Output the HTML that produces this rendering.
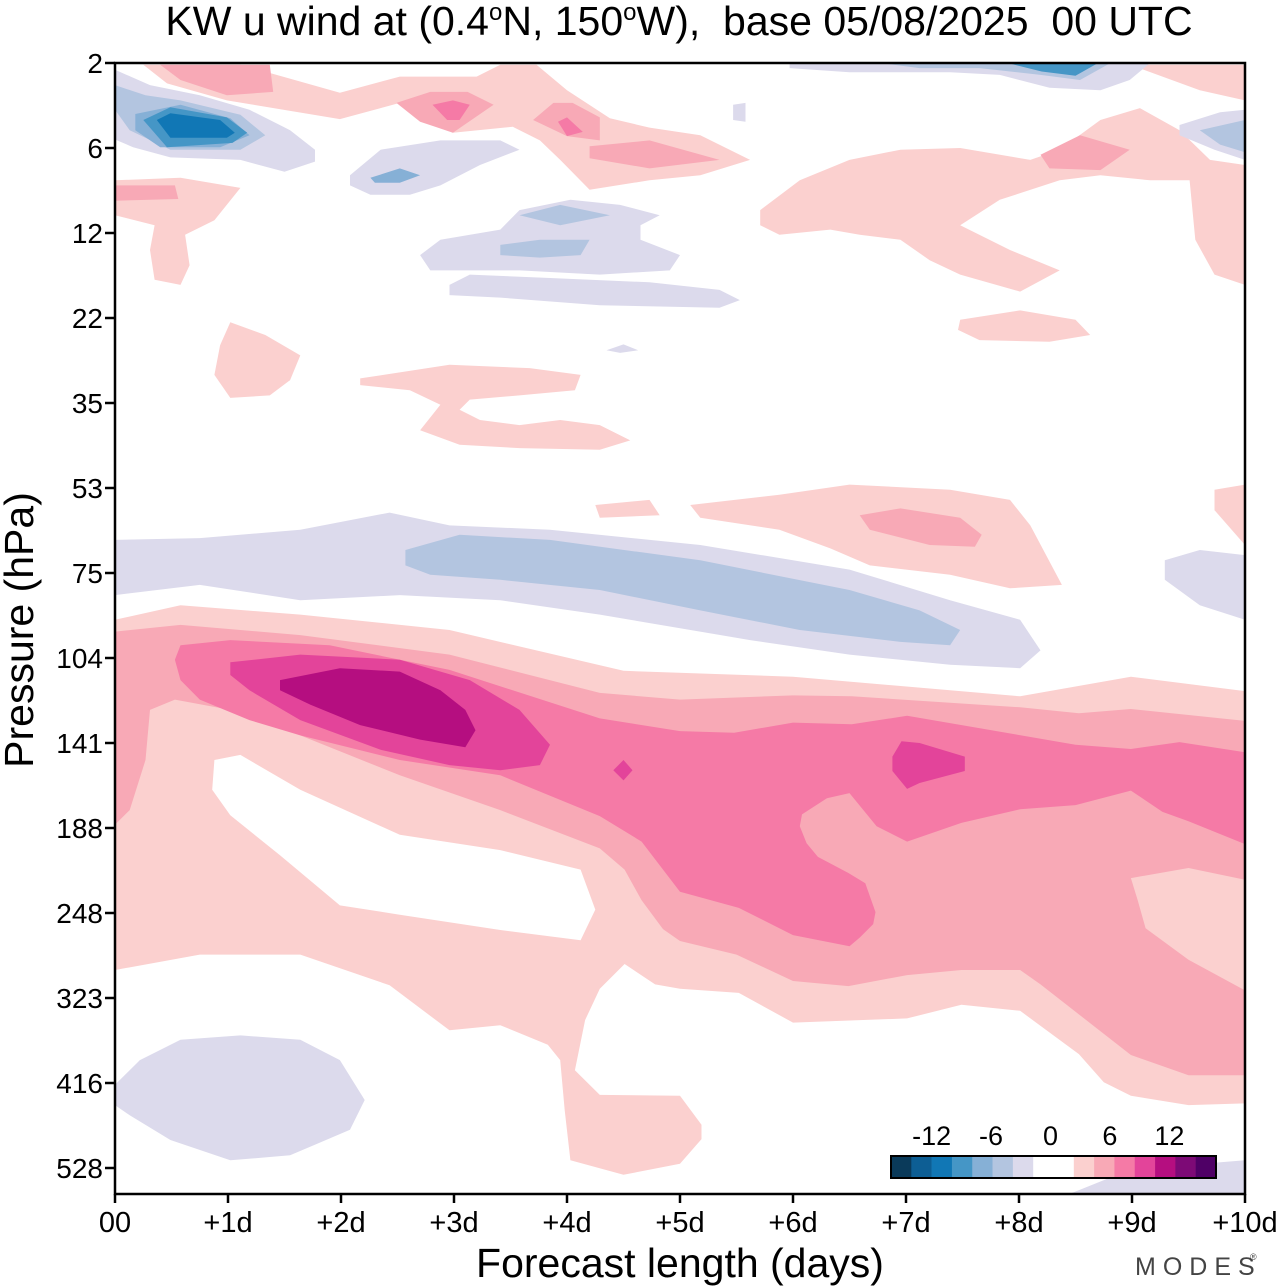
<!DOCTYPE html>
<html><head><meta charset="utf-8"><style>
html,body{margin:0;padding:0;background:#fff;}
svg{display:block;font-family:"Liberation Sans",Arial,sans-serif;}
</style></head><body>
<svg id="chart" width="1280" height="1286" viewBox="0 0 1280 1286" xmlns="http://www.w3.org/2000/svg">
<defs><clipPath id="plotclip"><rect x="115" y="63" width="1130" height="1131"/></clipPath></defs>
<text x="679" y="35" text-anchor="middle" font-size="41" style="white-space:pre">KW u wind at (0.4<tspan font-size="24" dy="-15">o</tspan><tspan dy="15">N, 150</tspan><tspan font-size="24" dy="-15">o</tspan><tspan dy="15">W),  base 05/08/2025  00 UTC</tspan></text>
<g id="contours" clip-path="url(#plotclip)"></g>
<g id="axes"></g>
<g id="cbar"></g>
<text x="680" y="1277" text-anchor="middle" font-size="41">Forecast length (days)</text>
<text transform="translate(33,630) rotate(-90)" text-anchor="middle" font-size="41">Pressure (hPa)</text>
<text x="1135" y="1275" font-size="25" fill="#444" letter-spacing="7">MODES</text>
<text x="1250" y="1260" font-size="9" fill="#444">®</text>
</svg>
<script>
// axis data
const dayTicks = [0,1,2,3,4,5,6,7,8,9,10];
const dayLabels = ["00","+1d","+2d","+3d","+4d","+5d","+6d","+7d","+8d","+9d","+10d"];
const pressureLevels = ["2","6","12","22","35","53","75","104","141","188","248","323","416","528"];
const cbarColors = ["#0a3a5a","#0d5e94","#1177b5","#4596c6","#86b0d6","#b3c5e0","#dcdaec","#ffffff","#ffffff","#fbd0cf","#f8a9b6","#f57aa6","#e3449a","#b50e80","#7d0a76","#4f0066"];
const cbarLabels = ["-12","-6","0","6","12"];
const cbarLabelCells = [2,5,8,11,14];
// contour shapes: [color, vertices as [day, pressure-level index]]
const C = {p1:"#fbd0cf",p2:"#f8a9b6",p3:"#f57aa6",p4:"#e3449a",p5:"#b50e80",w:"#ffffff",b1:"#dcdaec",b2:"#b3c5e0",b3:"#86b0d6",b4:"#4596c6",b5:"#1177b5"};
const jetLevel1 = [[0,6.55],[.58,6.38],[1.64,6.49],[2.96,6.67],[4.5,7.15],[6.0,7.22],[8.01,7.45],[8.99,7.22],[10,7.39],[10,12.24],[9.5,12.26],[8.99,12.15],[8.75,11.99],[8.53,11.66],[8.01,11.15],[7.49,11.08],[7.01,11.24],[6.0,11.29],[5.52,10.94],[5.0,10.89],[4.78,10.84],[4.51,10.6],[4.29,10.89],[4.16,11.26],[4.07,11.85],[4.29,12.14],[5.0,12.15],[5.19,12.49],[5.19,12.66],[5.0,12.95],[4.5,13.08],[4.03,12.91],[3.98,12.32],[3.94,11.73],[3.83,11.55],[3.41,11.32],[2.96,11.38],[2.43,10.85],[1.64,10.49],[.75,10.49],[0,10.67]];
const jetHole = [[.88,8.2],[1.11,8.14],[1.64,8.55],[2.52,9.08],[3.41,9.26],[4.12,9.49],[4.25,9.96],[4.12,10.32],[3.41,10.2],[2.52,10.02],[1.99,9.91],[1.46,9.32],[1.02,8.85],[.86,8.55]];
const jetLevel2 = [[0,6.69],[.58,6.61],[1.64,6.73],[2.96,6.96],[4.29,7.41],[5.0,7.49],[6.0,7.44],[6.52,7.45],[8.01,7.58],[8.53,7.65],[8.99,7.6],[10,7.74],[10,11.91],[9.5,11.91],[8.99,11.67],[8.19,10.84],[8.01,10.67],[7.49,10.67],[7.01,10.73],[6.49,10.86],[6.0,10.8],[5.5,10.49],[5.0,10.33],[4.85,10.19],[4.66,9.85],[4.51,9.49],[4.29,9.24],[3.41,8.79],[2.52,8.38],[1.64,7.91],[1.02,7.61],[.53,7.49],[.31,7.61],[.27,8.2],[.13,8.79],[0,8.96]];
const jetHole2 = [[8.99,9.59],[9.5,9.47],[10,9.61],[10,10.91],[9.5,10.55],[9.12,10.18],[9.05,9.85]];
const jetLevel3 = [[.53,7.02],[.58,6.85],[1.02,6.79],[1.9,6.85],[2.96,7.14],[4.29,7.71],[5.0,7.86],[5.48,7.88],[6.0,7.76],[6.52,7.78],[7.01,7.68],[8.5,8.02],[8.99,8.07],[9.42,7.99],[10,8.11],[10,9.19],[9.5,8.92],[9.27,8.81],[8.99,8.56],[8.5,8.73],[8.01,8.78],[7.49,8.94],[7.01,9.16],[6.74,8.98],[6.5,8.59],[6.3,8.65],[6.08,8.84],[6.06,8.98],[6.12,9.18],[6.22,9.34],[6.49,9.53],[6.64,9.65],[6.73,9.99],[6.71,10.13],[6.59,10.29],[6.5,10.39],[6.0,10.26],[5.52,9.94],[5.0,9.75],[4.66,9.16],[4.29,8.86],[3.41,8.38],[2.52,8.2],[1.64,7.91],[1.19,7.73],[.75,7.49],[.58,7.26]];
const jetLevel4 = [[1.02,7.05],[1.64,6.96],[2.52,7.02],[3.14,7.26],[3.58,7.61],[3.85,8.02],[3.76,8.26],[3.41,8.32],[2.96,8.26],[2.35,8.08],[1.64,7.73],[1.19,7.38],[1.02,7.2]];
const jetLevel5 = [[1.46,7.26],[1.99,7.12],[2.52,7.16],[2.88,7.38],[3.1,7.61],[3.19,7.85],[3.1,8.05],[2.7,7.96],[2.17,7.79],[1.73,7.55],[1.46,7.38]];
const jetDiamond = [[4.41,8.32],[4.5,8.2],[4.58,8.32],[4.5,8.44]];
const jetDay7 = [[6.96,7.98],[7.12,8.0],[7.52,8.16],[7.52,8.33],[7.12,8.47],[7.01,8.54],[6.88,8.33],[6.88,8.16]];
const easterly1 = [[0,5.61],[.75,5.59],[1.64,5.49],[2.43,5.29],[2.96,5.44],[3.85,5.49],[5.18,5.67],[6.5,5.96],[7.39,6.32],[8.01,6.55],[8.19,6.91],[8.01,7.12],[7.39,7.08],[6.5,6.96],[5.62,6.79],[4.29,6.49],[3.41,6.32],[2.52,6.26],[1.64,6.32],[.75,6.14],[0,6.26]];
const easterly2 = [[2.57,5.73],[3.05,5.55],[3.85,5.61],[5.18,5.85],[6.5,6.2],[7.12,6.44],[7.48,6.67],[7.39,6.85],[6.95,6.81],[6.06,6.67],[5.18,6.44],[4.29,6.2],[3.41,6.08],[2.79,6.02],[2.57,5.91]];
const easterlyRight = [[9.29,5.85],[9.6,5.73],[10,5.79],[10,6.55],[9.6,6.38],[9.29,6.08]];
const lowBlueLeft = [[0,12.02],[.22,11.73],[.58,11.49],[1.11,11.44],[1.64,11.49],[1.99,11.73],[2.21,12.2],[2.08,12.55],[1.55,12.85],[1.02,12.91],[.49,12.67],[.13,12.38],[0,12.26]];
const lowBlueRight = [[8.27,13.4],[8.98,13.02],[10,12.91],[10,13.4]];
const pink53 = [[5.09,5.2],[5.88,5.08],[6.5,4.96],[7.39,5.02],[7.92,5.14],[8.1,5.44],[8.38,6.14],[7.92,6.18],[7.39,6.02],[6.68,5.91],[6.33,5.71],[5.88,5.49],[5.18,5.35]];
const pink53in = [[6.59,5.32],[6.95,5.24],[7.48,5.35],[7.67,5.55],[7.61,5.69],[7.21,5.67],[6.68,5.49]];
const pink53b = [[4.25,5.2],[4.73,5.14],[4.82,5.32],[4.29,5.35]];
const pink53r = [[9.73,5.02],[10,4.96],[10,5.67],[9.73,5.26]];
const pink35 = [[2.17,3.71],[2.96,3.55],[3.67,3.59],[4.12,3.67],[4.07,3.85],[3.58,3.91],[3.14,3.96],[3.05,4.08],[3.23,4.2],[3.58,4.26],[3.94,4.2],[4.29,4.26],[4.56,4.44],[4.29,4.55],[3.58,4.53],[3.05,4.49],[2.7,4.32],[2.88,4.02],[2.61,3.85],[2.17,3.79]];
const pink22l = [[.88,3.67],[.93,3.32],[1.02,3.05],[1.33,3.2],[1.64,3.44],[1.55,3.73],[1.37,3.91],[1.02,3.94]];
const pink22r = [[7.48,3.02],[8.01,2.91],[8.5,3.02],[8.63,3.2],[8.27,3.28],[7.65,3.26],[7.46,3.14]];
const pink12r = [[5.71,1.73],[6.06,1.38],[6.5,1.14],[6.95,1.02],[7.48,1.0],[8.1,1.14],[8.36,1.02],[8.72,.67],[9.07,.53],[9.42,.79],[9.69,1.14],[10,1.2],[10,2.61],[9.73,2.49],[9.56,2.08],[9.51,1.38],[9.16,1.38],[8.72,1.32],[8.36,1.38],[7.83,1.61],[7.48,1.91],[7.92,2.2],[8.36,2.44],[8.01,2.69],[7.48,2.49],[7.21,2.32],[6.95,2.08],[6.59,2.02],[6.33,1.96],[5.88,2.02],[5.71,1.91]];
const pinkTop = [[.25,.02],[1.11,.02],[1.99,.35],[2.52,.16],[3.2,.16],[3.41,.02],[3.73,.02],[4.0,.32],[4.38,.65],[4.73,.76],[5.18,.85],[5.62,1.14],[5.18,1.32],[4.73,1.38],[4.2,1.49],[3.94,1.14],[3.76,.91],[3.52,.75],[2.99,.82],[2.52,.47],[1.99,.66],[.99,.44],[.46,.24]];
const pinkTopR = [[8.98,.02],[10,.02],[10,.44],[9.6,.32]];
const pinkLeft10 = [[0,1.38],[.58,1.35],[1.11,1.47],[.88,1.85],[.62,2.02],[.66,2.38],[.58,2.61],[.35,2.55],[.31,2.2],[.35,1.91],[0,1.79]];
const pink2TopL = [[.4,.02],[1.37,.02],[1.4,.34],[.99,.38],[.58,.2]];
const pink2a = [[2.49,.47],[2.79,.34],[3.12,.34],[3.35,.49],[2.99,.82],[2.7,.69]];
const pink3a = [[2.81,.49],[2.99,.44],[3.14,.49],[3.05,.67],[2.94,.67]];
const pink2b = [[3.7,.67],[3.88,.47],[4.05,.47],[4.29,.64],[4.29,.91],[4.0,.86]];
const pink3b = [[3.92,.69],[4.0,.64],[4.14,.81],[4.0,.86]];
const pink2c = [[4.2,.98],[4.73,.91],[5.35,1.14],[4.73,1.24],[4.2,1.12]];
const pink2d = [[8.19,1.08],[8.54,.85],[8.98,1.02],[8.72,1.26],[8.27,1.24]];
const pink2e = [[0,1.44],[.53,1.44],[.56,1.6],[0,1.62]];
const blueTL1 = [[0,.08],[.31,.26],[.75,.38],[1.19,.55],[1.55,.79],[1.77,1.02],[1.77,1.16],[1.5,1.28],[1.11,1.14],[.49,1.11],[.16,.99],[0,.9]];
const blueTL2 = [[0,.26],[.27,.38],[.58,.44],[1.11,.61],[1.33,.85],[1.11,1.02],[.49,1.02],[.13,.79],[0,.55]];
const blueTL3 = [[.18,.6],[.58,.49],[1.02,.65],[1.19,.85],[.93,.99],[.4,.99],[.18,.79]];
const blueTL4 = [[.25,.67],[.49,.52],[.99,.64],[1.17,.82],[1.04,.94],[.46,.99]];
const blueTL5 = [[.37,.67],[.49,.59],[.93,.67],[1.06,.82],[.99,.88],[.49,.88]];
const blue6a = [[2.08,1.32],[2.35,1.02],[2.88,.91],[3.41,.91],[3.58,1.02],[3.23,1.2],[2.88,1.44],[2.61,1.55],[2.26,1.55],[2.08,1.44]];
const blue6b = [[2.26,1.35],[2.52,1.24],[2.7,1.32],[2.52,1.41],[2.3,1.41]];
const blue12a = [[2.7,2.26],[2.88,2.08],[3.41,1.96],[3.58,1.73],[4.03,1.61],[4.47,1.67],[4.82,1.79],[4.65,1.91],[4.65,2.08],[5.0,2.26],[4.91,2.44],[4.29,2.49],[3.58,2.44],[3.14,2.44],[2.79,2.44]];
const blue12b = [[3.41,2.14],[3.76,2.08],[4.2,2.08],[4.12,2.26],[3.76,2.29],[3.41,2.26]];
const blue12c = [[3.58,1.79],[3.94,1.67],[4.38,1.79],[3.94,1.91]];
const blue18 = [[2.96,2.61],[3.14,2.49],[3.85,2.53],[4.73,2.58],[5.35,2.67],[5.53,2.79],[5.35,2.88],[4.29,2.85],[3.41,2.76],[2.96,2.73]];
const blueTR1 = [[5.97,0],[9.16,0],[8.98,.2],[8.72,.32],[8.27,.29],[7.83,.14],[7.39,.11],[6.5,.11],[5.97,.06]];
const blueTR2 = [[6.77,0],[8.81,0],[8.54,.2],[8.19,.14],[7.65,.06],[7.12,.06]];
const blueTR3 = [[7.9,0],[8.7,0],[8.5,.15],[8.2,.1]];
const blueR6a = [[9.42,.73],[9.78,.58],[10,.55],[10,1.14],[9.73,1.02],[9.42,.85]];
const blueR6b = [[9.6,.79],[10,.67],[10,1.05],[9.78,.96]];
const blueDot1 = [[5.47,.49],[5.58,.47],[5.58,.69],[5.47,.67]];
const blueDot2 = [[4.35,3.38],[4.5,3.31],[4.63,3.38],[4.47,3.41]];

const shapes = [
 ["jet-level1",C.p1,jetLevel1],["jet-white-gap",C.w,jetHole],["jet-level2",C.p2,jetLevel2],["jet-level2-gap",C.p1,jetHole2],
 ["jet-level3",C.p3,jetLevel3],["jet-level4",C.p4,jetLevel4],["jet-level5",C.p5,jetLevel5],["jet-diamond",C.p4,jetDiamond],["jet-day7-core",C.p4,jetDay7],
 ["easterly-outer",C.b1,easterly1],["easterly-inner",C.b2,easterly2],["easterly-right",C.b1,easterlyRight],
 ["low-blue-left",C.b1,lowBlueLeft],["low-blue-right",C.b1,lowBlueRight],
 ["pink-53",C.p1,pink53],["pink-53-inner",C.p2,pink53in],["pink-53-small",C.p1,pink53b],["pink-53-right",C.p1,pink53r],
 ["pink-35",C.p1,pink35],["pink-22-left",C.p1,pink22l],["pink-22-right",C.p1,pink22r],["pink-12-right",C.p1,pink12r],
 ["pink-top",C.p1,pinkTop],["pink-top-right",C.p1,pinkTopR],["pink-left-10",C.p1,pinkLeft10],
 ["pink-top-left-core",C.p2,pink2TopL],["pink-core-a",C.p2,pink2a],["pink-core-a2",C.p3,pink3a],["pink-core-b",C.p2,pink2b],["pink-core-b2",C.p3,pink3b],["pink-core-c",C.p2,pink2c],["pink-core-d",C.p2,pink2d],["pink-core-e",C.p2,pink2e],
 ["blue-tl-1",C.b1,blueTL1],["blue-tl-2",C.b2,blueTL2],["blue-tl-3",C.b3,blueTL3],["blue-tl-4",C.b4,blueTL4],["blue-tl-5",C.b5,blueTL5],
 ["blue-6-a",C.b1,blue6a],["blue-6-b",C.b3,blue6b],["blue-12-a",C.b1,blue12a],["blue-12-b",C.b2,blue12b],["blue-12-c",C.b2,blue12c],["blue-18",C.b1,blue18],
 ["blue-tr-1",C.b1,blueTR1],["blue-tr-2",C.b2,blueTR2],["blue-tr-3",C.b4,blueTR3],["blue-r6-a",C.b1,blueR6a],["blue-r6-b",C.b2,blueR6b],
 ["blue-dot-1",C.b1,blueDot1],["blue-dot-2",C.b1,blueDot2]
];

const NS="http://www.w3.org/2000/svg";
const X0=115,X1=1245,Y0=63,YSTEP=85,YBOT=1194;
function xScale(d){return X0+(X1-X0)*d/10;}
function yScale(i){return Y0+YSTEP*i;}
const cg=document.getElementById('contours');
shapes.forEach(s=>{
  const p=document.createElementNS(NS,'polygon');
  p.setAttribute('points',s[2].map(v=>xScale(v[0]).toFixed(1)+','+yScale(v[1]).toFixed(1)).join(' '));
  p.setAttribute('fill',s[1]);
  
  
  cg.appendChild(p);
});
const ax=document.getElementById('axes');
function mk(tag,attrs,parent){const e=document.createElementNS(NS,tag);for(const k in attrs)e.setAttribute(k,attrs[k]);parent.appendChild(e);return e;}
const frame=mk('rect',{x:X0,y:Y0,width:X1-X0,height:YBOT-Y0,fill:'none',stroke:'#000','stroke-width':2.5},ax);


dayTicks.forEach((d,i)=>{
  const t=mk('line',{x1:xScale(d),x2:xScale(d),y1:YBOT,y2:YBOT+9,stroke:'#000','stroke-width':2.5},ax);
  
  
  const l=mk('text',{x:xScale(d),y:1232,'text-anchor':'middle','font-size':29},ax);
  l.textContent=dayLabels[i];
  
  
});
pressureLevels.forEach((p,i)=>{
  const t=mk('line',{x1:X0-10,x2:X0,y1:yScale(i),y2:yScale(i),stroke:'#000','stroke-width':2.5},ax);
  
  
  const l=mk('text',{x:X0-12,y:yScale(i)+10,'text-anchor':'end','font-size':28},ax);
  l.textContent=p;
  
  
});
const cb=document.getElementById('cbar');
const CBX=891,CBY=1156,CBW=325/cbarColors.length,CBH=22;
cbarColors.forEach((c,i)=>{
  const r=mk('rect',{x:CBX+i*CBW,y:CBY,width:CBW+0.3,height:CBH,fill:c},cb);
  
  
});
const cbf=mk('rect',{x:CBX,y:CBY,width:325,height:CBH,fill:'none',stroke:'#000','stroke-width':2},cb);


cbarLabels.forEach((t,i)=>{
  const l=mk('text',{x:CBX+cbarLabelCells[i]*CBW-i*1.5,y:1145,'text-anchor':'middle','font-size':27},cb);
  l.textContent=t;
  
  
});
</script>
</body></html>
